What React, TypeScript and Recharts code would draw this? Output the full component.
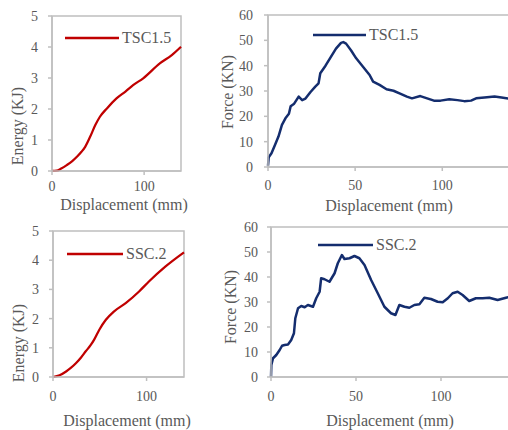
import { LineChart, Line, XAxis, YAxis, ReferenceArea, Legend } from 'recharts'

// TSC1.5 - energy
const tscEnergyDisp = [0, 5, 10, 16, 22, 27, 32, 36, 41.5, 47, 52, 59.6, 70, 80, 88, 99, 117, 130, 140]
const tscEnergy = [0, 0.01, 0.08, 0.19, 0.32, 0.46, 0.62, 0.78, 1.11, 1.48, 1.75, 2.02, 2.34, 2.57, 2.77, 2.99, 3.47, 3.74, 4.01]

// TSC1.5 - force
const tscForceDisp = [
  0, 0.4, 2, 4, 6, 8, 10, 12, 13, 15, 17.6, 19.6, 21.5, 24.4, 27, 29, 30, 33, 36, 39, 41.9, 43.2,
  44.8, 47.7, 50.6, 54.5, 58.3, 60.3, 64, 68, 72, 75.8, 79.7, 82.6, 87.4, 91.3, 95.2, 99, 104,
  108.7, 112.6, 116.5, 119.4, 124.2, 130, 134, 140,
]
const tscForce = [
  0.5, 3.8, 5.4, 8.7, 12, 16.6, 19.2, 21, 24, 25, 27.8, 26.4, 27, 29.6, 31.6, 33, 37, 40, 43.4, 46.7,
  49, 49.3, 48.7, 46, 42.9, 39.6, 36.3, 33.7, 32.4, 30.7, 30.1, 29, 27.8, 27.1, 28, 27.1, 26.2,
  26.2, 26.7, 26.4, 26, 26.2, 27.1, 27.4, 27.8, 27.4, 26.8,
]

// SSC.2 - energy
const sscEnergyDisp = [0, 7, 14, 19, 24.7, 30, 35, 40, 44, 49.5, 56.5, 65, 77.7, 92, 102.5, 120, 140]
const sscEnergy = [0, 0.06, 0.19, 0.31, 0.48, 0.67, 0.88, 1.08, 1.28, 1.62, 1.96, 2.24, 2.53, 2.93, 3.27, 3.78, 4.27]

// SSC.2 - force
const sscForceDisp = [
  0, 0.2, 1.2, 3.1, 5.1, 6.5, 8, 10, 11.9, 13.5, 14.3, 15.9, 17.8, 19.8, 21.7, 24.7, 26.6, 28.6,
  29.5, 31.5, 34.4, 37.4, 39.3, 41.7, 43.2, 46.2, 49.1, 52, 55, 58.9, 62.8, 66.7, 70.6, 73.2, 75.5,
  78.5, 81.4, 84.3, 87.3, 90.2, 94.1, 98, 101, 104, 106.8, 109.8, 112.7, 116.6, 120.5, 124.5, 128.4,
  133.3, 138.2, 140,
]
const sscForce = [
  0, 4.8, 7.5, 8.8, 10.8, 12.5, 12.8, 13, 14.8, 17.5, 23.5, 27.5, 28.4, 27.9, 28.8, 28.1, 31.5, 34.1,
  39.5, 39.1, 38.1, 41.5, 45.5, 48.8, 47.2, 47.5, 48.4, 47.5, 44.8, 38.8, 33.5, 28.1, 25.5, 24.8,
  28.8, 28.1, 27.7, 28.8, 29.1, 31.7, 31.2, 30.1, 29.9, 31.5, 33.5, 34.1, 32.8, 30.4, 31.5, 31.5,
  31.7, 30.8, 31.7, 32,
]

const energyTicks = [0, 1, 2, 3, 4, 5]
const forceTicks = [0, 10, 20, 30, 40, 50, 60]
const energyXTicks = [0, 100]
const forceXTicks = [0, 50, 100]

const FONT = "'Liberation Serif', 'Times New Roman', Times, 'DejaVu Serif', serif"
const GRAY = '#595959'
const AXIS = '#bfbfbf'
const RED = '#c00000'
const NAVY = '#142d6e'

const toRows = (xs: number[], ys: number[]) => xs.map((x, i) => ({ x, y: ys[i] }))

interface PanelProps {
  left: number
  top: number
  width: number
  height: number
  margin: { top: number; right: number; bottom: number; left: number }
  yWidth: number
  yTickMargin: number
  xTickMargin: number
  rows: Array<{ x: number; y: number }>
  yMax: number
  yTicks: number[]
  xTicks: number[]
  yTitle: string
  yTitlePos: [number, number]
  xTitlePos: [number, number]
  name: string
  color: string
  curve: 'monotone' | 'linear'
  legendPos: [number, number]
  lineLen: number
}

function Panel(p: PanelProps) {
  const tickStyle = { fill: GRAY, fontSize: 14, fontFamily: FONT }

  const renderLegend = () => (
    <div style={{ display: 'flex', alignItems: 'center', height: 20 }}>
      <svg width={p.lineLen} height={20}>
        <line x1={0} x2={p.lineLen} y1={10} y2={10} stroke={p.color} strokeWidth={2.5} />
      </svg>
      <span style={{ marginLeft: 3, fontFamily: FONT, fontSize: 16, color: GRAY, lineHeight: '20px' }}>
        {p.name}
      </span>
    </div>
  )

  return (
    <div style={{ position: 'absolute', left: p.left, top: p.top, fontFamily: FONT }}>
      <LineChart width={p.width} height={p.height} data={p.rows} margin={p.margin}>
        <ReferenceArea x1={0} x2={140} y1={0} y2={p.yMax} fill="none" stroke={AXIS} strokeWidth={1.5} />
        <XAxis
          dataKey="x"
          type="number"
          domain={[0, 140]}
          ticks={p.xTicks}
          height={30}
          stroke={AXIS}
          strokeWidth={1.5}
          tickSize={4}
          tickMargin={p.xTickMargin}
          tick={tickStyle}
          label={() => (
            <text
              x={p.xTitlePos[0]}
              y={p.xTitlePos[1]}
              textAnchor="middle"
              dominantBaseline="central"
              fill={GRAY}
              fontSize={16}
              style={{ fontFamily: FONT }}
            >
              Displacement (mm)
            </text>
          )}
        />
        <YAxis
          type="number"
          domain={[0, p.yMax]}
          ticks={p.yTicks}
          width={p.yWidth}
          stroke={AXIS}
          strokeWidth={1.5}
          tickSize={4}
          tickMargin={p.yTickMargin}
          tick={tickStyle}
          label={() => (
            <text
              x={p.yTitlePos[0]}
              y={p.yTitlePos[1]}
              transform={`rotate(-90, ${p.yTitlePos[0]}, ${p.yTitlePos[1]})`}
              textAnchor="middle"
              dominantBaseline="central"
              fill={GRAY}
              fontSize={16}
              style={{ fontFamily: FONT }}
            >
              {p.yTitle}
            </text>
          )}
        />
        <Legend
          layout="horizontal"
          verticalAlign="middle"
          align="center"
          content={renderLegend}
          wrapperStyle={{ left: p.legendPos[0], top: p.legendPos[1], width: 'auto' }}
        />
        <Line
          name={p.name}
          dataKey="y"
          type={p.curve}
          stroke={p.color}
          strokeWidth={p.curve === 'monotone' ? 2.25 : 2.5}
          strokeLinejoin="round"
          dot={false}
          isAnimationActive={false}
        />
      </LineChart>
    </div>
  )
}

export default function App() {
  return (
    <div
      style={{
        position: 'fixed',
        left: 0,
        top: 0,
        width: 508,
        height: 430,
        overflow: 'hidden',
        background: '#fff',
      }}
    >
      {/* TSC1.5 energy */}
      <Panel
        left={0}
        top={0}
        width={190}
        height={215}
        margin={{ top: 16, right: 9, bottom: 14, left: 12 }}
        yWidth={40}
        yTickMargin={10}
        xTickMargin={6}
        rows={toRows(tscEnergyDisp, tscEnergy)}
        yMax={5}
        yTicks={energyTicks}
        xTicks={energyXTicks}
        yTitle="Energy (KJ)"
        yTitlePos={[17, 126]}
        xTitlePos={[124, 204]}
        name="TSC1.5"
        color={RED}
        curve="monotone"
        legendPos={[65, 28]}
        lineLen={54}
      />
      {/* TSC1.5 force */}
      <Panel
        left={200}
        top={0}
        width={320}
        height={215}
        margin={{ top: 15, right: 8, bottom: 18, left: 18 }}
        yWidth={50}
        yTickMargin={11}
        xTickMargin={9}
        rows={toRows(tscForceDisp, tscForce)}
        yMax={60}
        yTicks={forceTicks}
        xTicks={forceXTicks}
        yTitle="Force (KN)"
        yTitlePos={[27, 92]}
        xTitlePos={[189, 205]}
        name="TSC1.5"
        color={NAVY}
        curve="linear"
        legendPos={[113, 25]}
        lineLen={53}
      />
      {/* SSC.2 energy */}
      <Panel
        left={0}
        top={215}
        width={195}
        height={215}
        margin={{ top: 16, right: 11, bottom: 23, left: 13 }}
        yWidth={40}
        yTickMargin={10}
        xTickMargin={10}
        rows={toRows(sscEnergyDisp, sscEnergy)}
        yMax={5}
        yTicks={energyTicks}
        xTicks={energyXTicks}
        yTitle="Energy (KJ)"
        yTitlePos={[18, 128]}
        xTitlePos={[127, 205]}
        name="SSC.2"
        color={RED}
        curve="monotone"
        legendPos={[67, 29]}
        lineLen={56}
      />
      {/* SSC.2 force */}
      <Panel
        left={200}
        top={215}
        width={320}
        height={215}
        margin={{ top: 12, right: 11, bottom: 23, left: 21 }}
        yWidth={50}
        yTickMargin={9}
        xTickMargin={10}
        rows={toRows(sscForceDisp, sscForce)}
        yMax={60}
        yTicks={forceTicks}
        xTicks={forceXTicks}
        yTitle="Force (KN)"
        yTitlePos={[30, 92]}
        xTitlePos={[190, 205]}
        name="SSC.2"
        color={NAVY}
        curve="linear"
        legendPos={[118, 20]}
        lineLen={55}
      />
    </div>
  )
}
